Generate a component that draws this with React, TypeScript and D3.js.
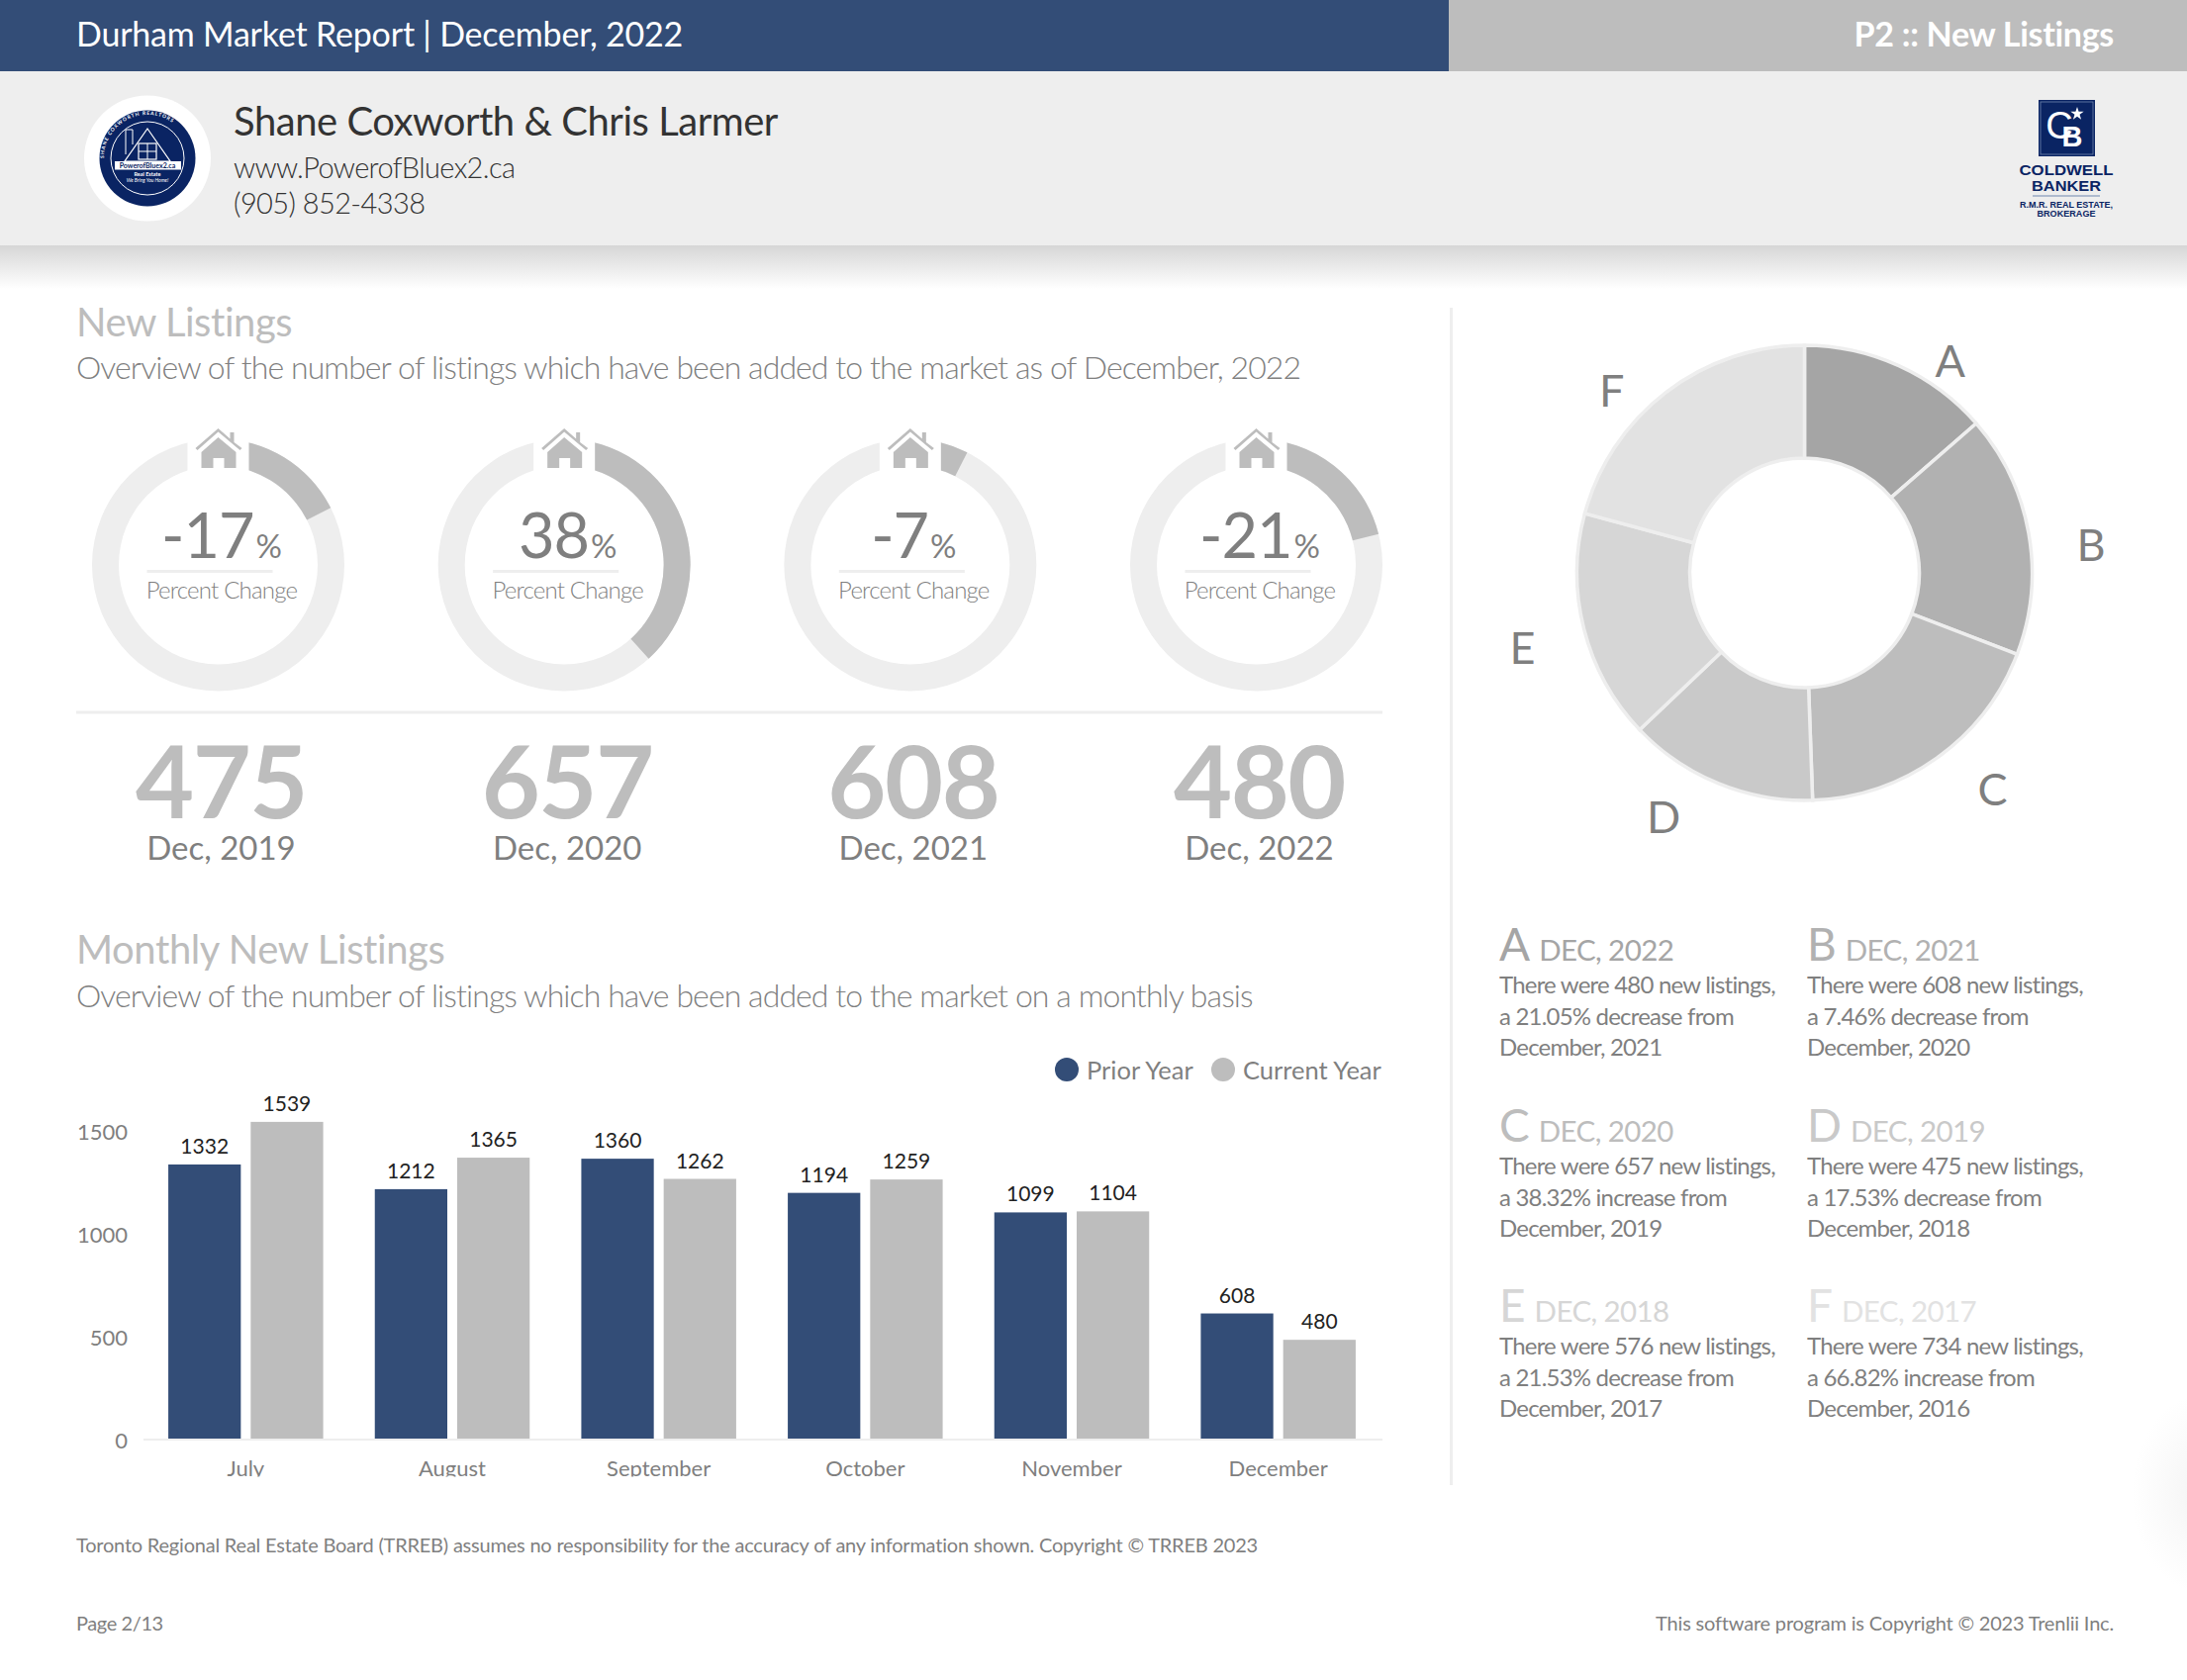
import * as d3 from 'd3';

const months = ['July', 'August', 'September', 'October', 'November', 'December'];
const priorYear = [1332, 1212, 1360, 1194, 1099, 608];
const currentYear = [1539, 1365, 1262, 1259, 1104, 480];
const yTicks = [0, 500, 1000, 1500];

const gaugeYears = ['Dec, 2019', 'Dec, 2020', 'Dec, 2021', 'Dec, 2022'];
const gaugeTotals = [475, 657, 608, 480];
const gaugeLabels = ['-17', '38', '-7', '-21'];
const gaugeFractions = [0.1753, 0.3832, 0.0746, 0.2105];

const pieLetters = ['A', 'B', 'C', 'D', 'E', 'F'];
const pieYears = ['2022', '2021', '2020', '2019', '2018', '2017'];
const pieValues = [480, 608, 657, 475, 576, 734];
const pieColors = ['#a5a5a5', '#b1b1b1', '#bdbdbd', '#c9c9c9', '#d6d6d6', '#e2e2e2'];
const pieChanges = ['21.05%', '7.46%', '38.32%', '17.53%', '21.53%', '66.82%'];
const pieDirections = ['decrease', 'decrease', 'increase', 'decrease', 'decrease', 'increase'];
const pieBaseYears = ['2021', '2020', '2019', '2018', '2017', '2016'];

const NAVY = '#334d77';
const GREY = '#bdbdbd';
const LIGHT = '#eeeeee';
const TEXT = '#7f7f7f';
const FONT = 'Lato, "Open Sans", sans-serif';
const BRAND = '#0a2463';

const gaugeX = d3.scalePoint<number>().domain([0, 1, 2, 3]).range([220.5, 1269.5]);
const gaugeY = 571;
const trackArc = d3.arc<any>().innerRadius(100.5).outerRadius(127.5);

const x0 = d3.scaleBand<string>().domain(months).range([144, 1396]).paddingInner(0.25).paddingOuter(0.125);
const x1 = d3.scaleBand<string>().domain(['prior', 'current']).range([0, x0.bandwidth()]).paddingInner(0.12);
const y = d3.scaleLinear().domain([0, 1500]).range([1454, 1142]);

const pieCx = 1823.5;
const pieCy = 579;
const pieLayout = d3.pie<number>().sort(null)(pieValues);
const pieArc = d3.arc<any>().innerRadius(116).outerRadius(230);
// labels are not quite on the slice middles, so each has its own nudge
const labelRadii = [260, 291, 290, 285, 295, 268];
const labelTurn = [10, 4.5, -5.4, 7.8, -0.7, -9.2];

const blockX = [1515, 1826];
const blockY = [971, 1153.5, 1336];

function House({ cx }: { cx: number }) {
  return (
    <g transform={`translate(${cx},433)`} fill={GREY}>
      <path d="M-23 20 L0 0 L12 10.5 L12 4 L16 4 L16 14 L24 20 L22 22 L0 3.5 L-21 22 Z" />
      <path d="M0 9 L18 24 L18 40 L6 40 L6 30 L-5 30 L-5 40 L-17 40 L-17 24 Z" />
    </g>
  );
}

function Gauge({ i }: { i: number }) {
  const cx = gaugeX(i) as number;
  const fillArc = trackArc({ startAngle: 0, endAngle: gaugeFractions[i] * 2 * Math.PI });
  const track = trackArc({ startAngle: 0, endAngle: 2 * Math.PI });
  return (
    <g>
      <g transform={`translate(${cx},${gaugeY})`}>
        <path d={track as string} fill={LIGHT} />
        <path d={fillArc as string} fill={GREY} />
      </g>
      <rect x={cx - 31} y={428} width={62} height={50} fill="#fff" />
      <House cx={cx} />
      <text x={cx + 3} y={564} textAnchor="middle" fill={TEXT} fontSize={63} fontWeight={400} letterSpacing={-1}>
        {gaugeLabels[i]}
        <tspan fontSize={33} fontWeight={400} dx={2}>%</tspan>
      </text>
      <rect x={cx - 72} y={576} width={127} height={3} fill={LIGHT} />
      <text x={cx + 3.5} y={604.5} textAnchor="middle" fill={TEXT} fontSize={24} fontWeight={300} letterSpacing={-0.8}>Percent Change</text>
      <text x={cx + 3} y={827} textAnchor="middle" fill={GREY} fontSize={102} fontWeight={700} letterSpacing={-1.5}>{gaugeTotals[i]}</text>
      <text x={cx + 3} y={869} textAnchor="middle" fill={TEXT} fontSize={33}>{gaugeYears[i]}</text>
    </g>
  );
}

function Seal() {
  return (
    <g>
      <ellipse cx={149} cy={160} rx={64} ry={63.5} fill="#fff" />
      <circle cx={149} cy={160} r={48.5} fill={BRAND} />
      <circle cx={149} cy={160} r={37} fill="none" stroke="#fff" strokeWidth={1} />
      <path id="sealRing" d="M105 160 A44 44 0 0 1 193 160" fill="none" />
      <text fontSize={5} fill="#fff" fontWeight={700} letterSpacing={1}>
        <textPath href="#sealRing">SHANE COXWORTH  REALTORS</textPath>
      </text>
      <path d="M149 130 L172 163 L126 163 Z" fill="none" stroke="#fff" strokeWidth={1.2} />
      <rect x={140} y={145} width={18} height={16} fill="none" stroke="#fff" strokeWidth={1.2} />
      <path d="M149 145 V161 M140 153 H158" stroke="#fff" strokeWidth={1} />
      <path d="M127 156 V131 H134 V146" fill="none" stroke="#fff" strokeWidth={1} />
      <rect x={116} y={163} width={67} height={8.5} fill="#fff" />
      <text x={149} y={170} textAnchor="middle" fontSize={7} fontWeight={700} fill={BRAND}>PowerofBluex2.ca</text>
      <text x={149} y={177.5} textAnchor="middle" fontSize={5.5} fontWeight={700} fill="#fff">Real Estate</text>
      <text x={149} y={184} textAnchor="middle" fontSize={5} fontStyle="italic" fill="#fff">We Bring You Home!</text>
    </g>
  );
}

function BrandLogo() {
  const star = d3.symbol().type(d3.symbolStar).size(55)() as string;
  return (
    <g fill={BRAND} textAnchor="middle" fontFamily={'"Liberation Sans", sans-serif'} fontWeight={700}>
      <rect x={2060} y={101} width={57} height={57} fill={BRAND} />
      <rect x={2062} y={103} width={53} height={53} fill="none" stroke="#6f86ad" strokeWidth={0.8} />
      <text x={2081} y={140} fontSize={38} fill="#fff" fontWeight={400}>C</text>
      <text x={2094} y={148} fontSize={29} fill="#fff">B</text>
      <path d={star} transform="translate(2099,115)" fill="#fff" />
      <text x={2088} y={176.5} fontSize={15} textLength={95} lengthAdjust="spacingAndGlyphs">COLDWELL</text>
      <text x={2088} y={192.5} fontSize={15} textLength={70} lengthAdjust="spacingAndGlyphs">BANKER</text>
      <rect x={2054} y={197.5} width={68} height={1} fill="#6f86ad" />
      <text x={2088} y={210} fontSize={8.5} textLength={94} lengthAdjust="spacingAndGlyphs">R.M.R. REAL ESTATE,</text>
      <text x={2088} y={219} fontSize={8.5} textLength={59} lengthAdjust="spacingAndGlyphs">BROKERAGE</text>
    </g>
  );
}

function BarChart() {
  return (
    <g>
      <clipPath id="monthClip">
        <rect x={100} y={1460} width={1320} height={32.5} />
      </clipPath>
      <rect x={145} y={1454} width={1252} height={2} fill={LIGHT} />
      {yTicks.map((t) => (
        <text key={t} x={129} y={y(t) + 10} textAnchor="end" fontSize={22} fill={TEXT}>{t}</text>
      ))}
      {months.map((m, i) => {
        const gx = x0(m) as number;
        const bw = x1.bandwidth();
        const px = gx + (x1('prior') as number);
        const cx = gx + (x1('current') as number);
        return (
          <g key={m}>
            <rect x={px} y={y(priorYear[i])} width={bw} height={y(0) - y(priorYear[i])} fill={NAVY} />
            <rect x={cx} y={y(currentYear[i])} width={bw} height={y(0) - y(currentYear[i])} fill={GREY} />
            <text x={px + bw / 2} y={y(priorYear[i]) - 11} textAnchor="middle" fontSize={21} fill="#222">{priorYear[i]}</text>
            <text x={cx + bw / 2} y={y(currentYear[i]) - 11} textAnchor="middle" fontSize={21} fill="#222">{currentYear[i]}</text>
            <text x={gx + x0.bandwidth() / 2} y={1491.5} textAnchor="middle" fontSize={22} fill={TEXT} clipPath="url(#monthClip)">{m}</text>
          </g>
        );
      })}
      <circle cx={1078} cy={1081} r={12} fill={NAVY} />
      <text x={1098} y={1091} fontSize={25.5} fill={TEXT}>Prior Year</text>
      <circle cx={1236} cy={1081} r={12} fill={GREY} />
      <text x={1256} y={1091} fontSize={25.5} fill={TEXT}>Current Year</text>
    </g>
  );
}

function PieChart() {
  return (
    <g>
      <g transform={`translate(${pieCx},${pieCy})`}>
        {pieLayout.map((d, i) => (
          <path key={i} d={pieArc(d) as string} fill={pieColors[i]} stroke={LIGHT} strokeWidth={3.5} />
        ))}
      </g>
      {pieLayout.map((d, i) => {
        const a = (d.startAngle + d.endAngle) / 2 + (labelTurn[i] * Math.PI) / 180;
        return (
          <text
            key={i}
            x={pieCx + Math.sin(a) * labelRadii[i]}
            y={pieCy - Math.cos(a) * labelRadii[i] + 16}
            textAnchor="middle"
            fontSize={45}
            fill={TEXT}
          >
            {pieLetters[i]}
          </text>
        );
      })}
    </g>
  );
}

function Blocks() {
  return (
    <g>
      {pieLetters.map((l, i) => {
        const bx = blockX[i % 2];
        const by = blockY[Math.floor(i / 2)];
        return (
          <g key={l}>
            <text x={bx} y={by} fill={pieColors[i]}>
              <tspan fontSize={46}>{l}</tspan>
              <tspan fontSize={29.5} dx={9} letterSpacing={-0.6}>{`DEC, ${pieYears[i]}`}</tspan>
            </text>
            <text x={bx} y={by + 33} fontSize={24} letterSpacing={-0.8} fill={TEXT}>{`There were ${pieValues[i]} new listings,`}</text>
            <text x={bx} y={by + 65} fontSize={24} letterSpacing={-0.8} fill={TEXT}>{`a ${pieChanges[i]} ${pieDirections[i]} from`}</text>
            <text x={bx} y={by + 96} fontSize={24} letterSpacing={-0.8} fill={TEXT}>{`December, ${pieBaseYears[i]}`}</text>
          </g>
        );
      })}
    </g>
  );
}

export default function App() {
  return (
    <svg
      width={2210}
      height={1698}
      viewBox="0 0 2210 1698"
      style={{ position: 'absolute', left: 0, top: 0, display: 'block', background: '#fff' }}
      fontFamily={FONT}
    >
      <defs>
        <linearGradient id="bandShadow" x1="0" y1="0" x2="0" y2="1">
          <stop offset="0%" stopColor="#d6d6d6" />
          <stop offset="100%" stopColor="#ffffff" />
        </linearGradient>
        <radialGradient id="cornerGlow">
          <stop offset="0%" stopColor="#f4f4f4" />
          <stop offset="100%" stopColor="#ffffff" />
        </radialGradient>
      </defs>

      <ellipse cx={2225} cy={1510} rx={70} ry={100} fill="url(#cornerGlow)" />

      <rect x={0} y={0} width={1464} height={72} fill={NAVY} />
      <rect x={1464} y={0} width={746} height={72} fill={GREY} />
      <rect x={0} y={72} width={2210} height={176} fill={LIGHT} />
      <rect x={0} y={248} width={2210} height={44} fill="url(#bandShadow)" />

      <text x={77} y={47} fontSize={34} letterSpacing={-0.2} fill="#fff">Durham Market Report | December, 2022</text>
      <text x={2136} y={47} fontSize={34} fontWeight={700} letterSpacing={-0.3} fill="#fff" textAnchor="end">P2 :: New Listings</text>

      <Seal />
      <text x={236} y={137} fontSize={40} letterSpacing={-0.47} fill="#333">Shane Coxworth &amp; Chris Larmer</text>
      <text x={236} y={179.5} fontSize={29} fontWeight={300} letterSpacing={-0.63} fill="#333">www.PowerofBluex2.ca</text>
      <text x={236} y={216} fontSize={29} fontWeight={300} letterSpacing={-0.6} fill="#333">(905) 852-4338</text>
      <BrandLogo />

      <text x={77} y={340} fontSize={40} letterSpacing={-0.45} fill={GREY}>New Listings</text>
      <text x={77} y={382.5} fontSize={32} fontWeight={300} letterSpacing={-0.92} fill={TEXT}>Overview of the number of listings which have been added to the market as of December, 2022</text>

      {gaugeTotals.map((_, i) => <Gauge key={i} i={i} />)}
      <rect x={77} y={718.5} width={1320} height={3} fill={LIGHT} />

      <text x={77} y={974} fontSize={40} letterSpacing={-0.42} fill={GREY}>Monthly New Listings</text>
      <text x={77} y={1018} fontSize={32} fontWeight={300} letterSpacing={-0.92} fill={TEXT}>Overview of the number of listings which have been added to the market on a monthly basis</text>

      <BarChart />

      <rect x={1465} y={311} width={3} height={1190} fill={LIGHT} />
      <PieChart />
      <Blocks />

      <text x={77} y={1569} fontSize={20} letterSpacing={-0.21} fill={TEXT}>Toronto Regional Real Estate Board (TRREB) assumes no responsibility for the accuracy of any information shown. Copyright © TRREB 2023</text>
      <text x={77} y={1648} fontSize={20} letterSpacing={-0.4} fill={TEXT}>Page 2/13</text>
      <text x={2136} y={1648} fontSize={20} letterSpacing={-0.19} fill={TEXT} textAnchor="end">This software program is Copyright © 2023 Trenlii Inc.</text>
    </svg>
  );
}
